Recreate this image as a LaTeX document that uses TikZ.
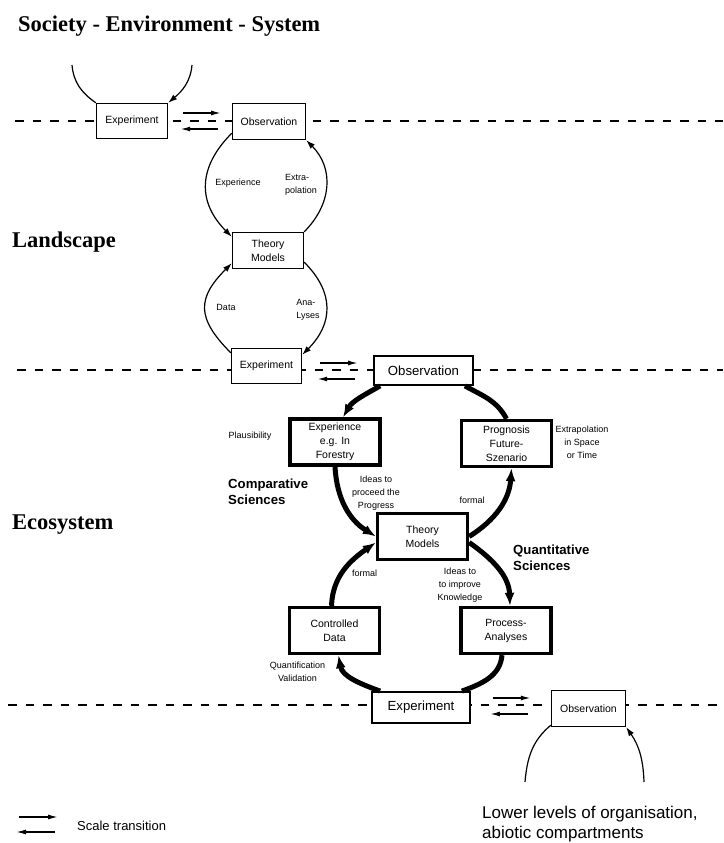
\documentclass[tikz,border=0pt]{standalone}
\usepackage{fontspec}
\setmainfont{Liberation Sans}
\newfontfamily\headfont{Liberation Serif}
\usetikzlibrary{
  arrows.meta,
}

\begin{document}
\begin{tikzpicture}[
  x=1pt, y=1pt,
  every node/.style={inner sep=0pt, align=center},
  level/.style={dash pattern=on 8.5pt off 9pt, line width=1.5pt},
  heading/.style={anchor=base west, font=\headfont\bfseries\fontsize{22.5}{26}\selectfont},
  thinbox/.style={draw, fill=white, line width=1.3pt, font=\fontsize{10.5}{14}\selectfont},
  thickbox/.style={draw, fill=white, line width=3.3pt, minimum width=90pt, minimum height=46pt, font=\fontsize{10.5}{14}\selectfont},
  bigbox/.style={draw, fill=white, line width=1.8pt, font=\fontsize{13.2}{15}\selectfont},
  note/.style={font=\fontsize{9}{13}\selectfont},
  science/.style={anchor=west, align=left, font=\bfseries\fontsize{13.2}{16}\selectfont},
  thinflow/.style={line width=1.2pt},
  thickflow/.style={line width=5pt},
  thintip/.style={-{Latex[length=9pt,width=6pt]}},
  thicktip/.style={-{Latex[length=13pt,width=10pt]}},
  trans/.style={line width=1.5pt, -{Latex[length=10pt,width=5pt]}},
]
\useasboundingbox (0,0) rectangle (723,843);

\draw[level] (15,722) -- (723,722);
\draw[level] (17,473) -- (723,473);
\draw[level] (8,138) -- (723,138);

\node[heading] (society) at (18,811) {Society - Environment - System};
\node[heading] (landscape) at (12,595) {Landscape};
\node[heading] (ecosystem) at (12,313) {Ecosystem};

\node[thinbox, minimum width=71pt, minimum height=35pt] (exp1) at (132,722) {Experiment};
\node[thinbox, minimum width=73pt, minimum height=36pt] (obs1) at (269,721.5) {Observation};
\node[thinbox, minimum width=71pt, minimum height=36pt] (theo1) at (268,592.5) {Theory\\Models};
\node[thinbox, minimum width=70pt, minimum height=35pt] (exp2) at (266.5,477) {Experiment};

\node[bigbox, minimum width=99pt, minimum height=29pt] (obs2) at (423.5,472.5) {Observation};
\node[thickbox] (expc) at (335,401) {Experience\\e.g. In\\Forestry};
\node[thickbox] (prog) at (506.5,399.5) {Prognosis\\Future-\\Szenario};
\node[thickbox] (theo2) at (422.5,306.5) {Theory\\Models};
\node[thickbox] (ctrl) at (334.5,212.5) {Controlled\\Data};
\node[thickbox] (proc) at (506,212.5) {Process-\\Analyses};
\node[bigbox, minimum width=98pt, minimum height=31pt] (exp3) at (421,135.5) {Experiment};
\node[thinbox, minimum width=74pt, minimum height=36pt] (obs3) at (588.5,134.5) {Observation};

\node[note] (experience) at (238,660) {Experience};
\node[note, align=left] (extrapolation) at (301,658) {Extra-\\polation};
\node[note] (data) at (226,536) {Data};
\node[note, align=left] (analyses) at (308,533.5) {Ana-\\Lyses};
\node[note] (plausibility) at (250,407) {Plausibility};
\node[note] (spacetime) at (582,401) {Extrapolation\\in Space\\or Time};
\node[science] (comparative) at (228,351.5) {Comparative\\Sciences};
\node[note] (proceed) at (376,350) {Ideas to\\proceed the\\Progress};
\node[note] (formalup) at (472,343) {formal};
\node[science] (quantitative) at (513,285) {Quantitative\\Sciences};
\node[note] (formaldown) at (364.5,270) {formal};
\node[note] (improve) at (460,258) {Ideas to\\to improve\\Knowledge};
\node[note] (quantification) at (297.5,171.5) {Quantification\\Validation};
\node[anchor=west, align=left, font=\fontsize{17}{20}\selectfont] (lower) at (482,19) {Lower levels of organisation,\\abiotic compartments};
\node[anchor=west, font=\fontsize{13}{15}\selectfont] (legend) at (77,17) {Scale transition};

\coordinate (upL) at (72,778);
\coordinate (upR) at (192,778);
\coordinate (lowL) at (525,61);
\coordinate (lowR) at (644,61);

\draw[thinflow] (upL) to[out=-85,in=145] (exp1.north west);
\draw[thinflow, thintip] (upR) to[out=-95,in=40] (exp1.north east);
\draw[thinflow, thintip] ([yshift=7pt]obs1.south west) to[out=225,in=135,looseness=1.2] ([yshift=-5pt]theo1.north west);
\draw[thinflow, thintip] (theo1.north east) to[out=45,in=-45,looseness=1.1] (obs1.south east);
\draw[thinflow, thintip] ([yshift=-5pt]exp2.north west) to[out=135,in=225,looseness=1.4] ([yshift=6pt]theo1.south west);
\draw[thinflow, thintip] ([yshift=7pt]theo1.south east) to[out=-45,in=45,looseness=1.2] ([yshift=-7pt]exp2.north east);

\draw[thickflow, thicktip] ([xshift=7pt]obs2.south west) to[out=210,in=60] ([xshift=8pt]expc.north);
\draw[thickflow, thicktip] (expc.south) to[out=273,in=148] (theo2.west);
\draw[thickflow, thicktip] (theo2.east) to[out=32,in=266] ([xshift=5pt]prog.south);
\draw[thickflow] (prog.north) to[out=118,in=-29] ([xshift=-9pt]obs2.south east);
\draw[thickflow, thicktip] ([xshift=-3pt]ctrl.north) to[out=88,in=215] ([yshift=-6pt]theo2.west);
\draw[thickflow, thicktip] ([yshift=-6pt]theo2.east) to[out=-35,in=92] ([xshift=4pt]proc.north);
\draw[thickflow] ([xshift=-4pt]proc.south) to[out=-95,in=20] ([xshift=-9pt]exp3.north east);
\draw[thickflow, thicktip] ([xshift=9pt]exp3.north west) to[out=160,in=-80] ([xshift=4pt]ctrl.south);

\draw[thinflow] ([yshift=2pt]obs3.south west) to[out=220,in=85] (lowL);
\draw[thinflow, thintip] (lowR) to[out=92,in=-55] (obs3.south east);

\foreach \b/\dx/\dy in {exp1/15/8, exp2/18/3, exp3/22/9.5} {
  \draw[trans] ([shift={(\dx,\dy)}]\b.east) -- ++(38,0);
  \draw[trans] ([shift={(\dx+35,\dy-16)}]\b.east) -- ++(-38,0);
}
\draw[trans] ([shift={(-58,9)}]legend.west) -- ++(39,0);
\draw[trans] ([shift={(-22,-6)}]legend.west) -- ++(-39,0);
\end{tikzpicture}
\end{document}
